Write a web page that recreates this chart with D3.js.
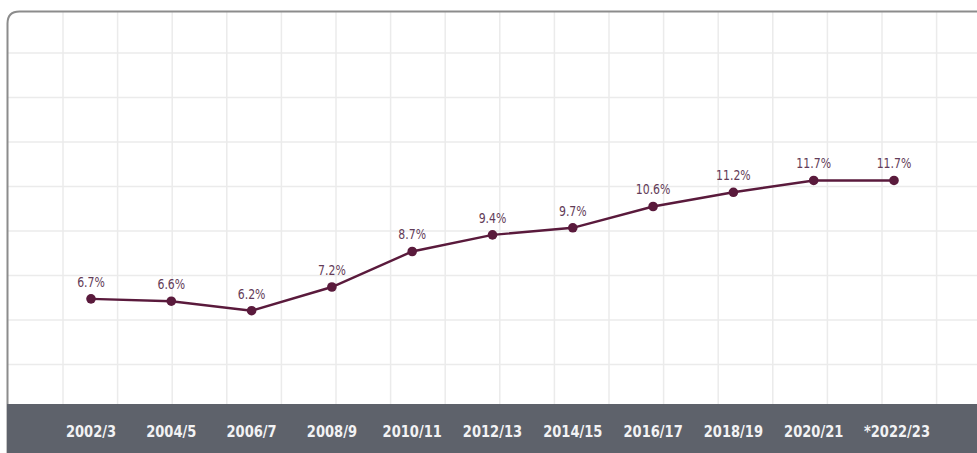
<!DOCTYPE html>
<html lang="en">
<head>
<meta charset="UTF-8">
<title>Share by year</title>
<script src="https://d3js.org/d3.v7.min.js"></script>
<style>
    body { margin: 0; background: #fff; }
    svg { display: block; }
    .grid line { stroke: #ebebeb; stroke-width: 1.5; }
    .val { font-family: "DejaVu Sans Condensed", sans-serif; font-size: 13.5px; fill: #633c58; text-anchor: middle; }
    .cat { font-family: "DejaVu Sans Condensed", sans-serif; font-weight: bold; font-size: 16.5px; fill: #f2f2f4; text-anchor: middle; }
</style>
</head>
<body>
<svg></svg>
<script>
    // data
    const years = ["2002/3", "2004/5", "2006/7", "2008/9", "2010/11", "2012/13",
                   "2014/15", "2016/17", "2018/19", "2020/21", "*2022/23"];
    const shares = [6.7, 6.6, 6.2, 7.2, 8.7, 9.4, 9.7, 10.6, 11.2, 11.7, 11.7];

    const width = 977, height = 453;
    const bandTop = 404;

    const svg = d3.select("svg").attr("width", width).attr("height", height);

    // scales
    const x = d3.scalePoint().domain(years).range([91, 894]);
    const y = d3.scaleLinear().domain([0, 10]).range([457.5, 220.7]);

    // background grid (decorative squares)
    const grid = svg.append("g").attr("class", "grid");
    grid.selectAll(".v")
        .data(d3.range(63, width, 54.6))
        .join("line")
        .attr("x1", d => d).attr("x2", d => d)
        .attr("y1", 12).attr("y2", bandTop);
    grid.selectAll(".h")
        .data(d3.range(53, bandTop, 44.5))
        .join("line")
        .attr("x1", 8).attr("x2", width)
        .attr("y1", d => d).attr("y2", d => d);

    // card outline with rounded top-left corner
    const r = 12, cx = 7.5, cy = 11.5;
    svg.append("path")
        .attr("d", `M${cx},${height} L${cx},${cy + r} Q${cx},${cy} ${cx + r},${cy} L${width + 2},${cy}`)
        .attr("fill", "none")
        .attr("stroke", "#8c8c8c")
        .attr("stroke-width", 2);

    // bottom band with categories
    svg.append("rect")
        .attr("x", 7).attr("y", bandTop)
        .attr("width", width - 7).attr("height", height - bandTop)
        .attr("fill", "#5e626b");

    // narrow the text a bit to get the condensed look
    svg.selectAll(".cat")
        .data(years)
        .join("text")
        .attr("class", "cat")
        .attr("transform", d => `translate(${x(d) + (d.startsWith("*") ? 3 : 0)},437) scale(0.88,1)`)
        .text(d => d);

    // line
    const line = d3.line()
        .x((d, i) => x(years[i]))
        .y(d => y(d));

    svg.append("path")
        .datum(shares)
        .attr("d", line)
        .attr("fill", "none")
        .attr("stroke", "#5a1a3c")
        .attr("stroke-width", 2.4);

    svg.selectAll(".dot")
        .data(shares)
        .join("circle")
        .attr("class", "dot")
        .attr("cx", (d, i) => x(years[i]))
        .attr("cy", d => y(d))
        .attr("r", 4.8)
        .attr("fill", "#5a1a3c");

    svg.selectAll(".val")
        .data(shares)
        .join("text")
        .attr("class", "val")
        .attr("transform", (d, i) => `translate(${x(years[i])},${y(d) - 12}) scale(0.9,1)`)
        .text(d => d.toFixed(1) + "%");
</script>
</body>
</html>
